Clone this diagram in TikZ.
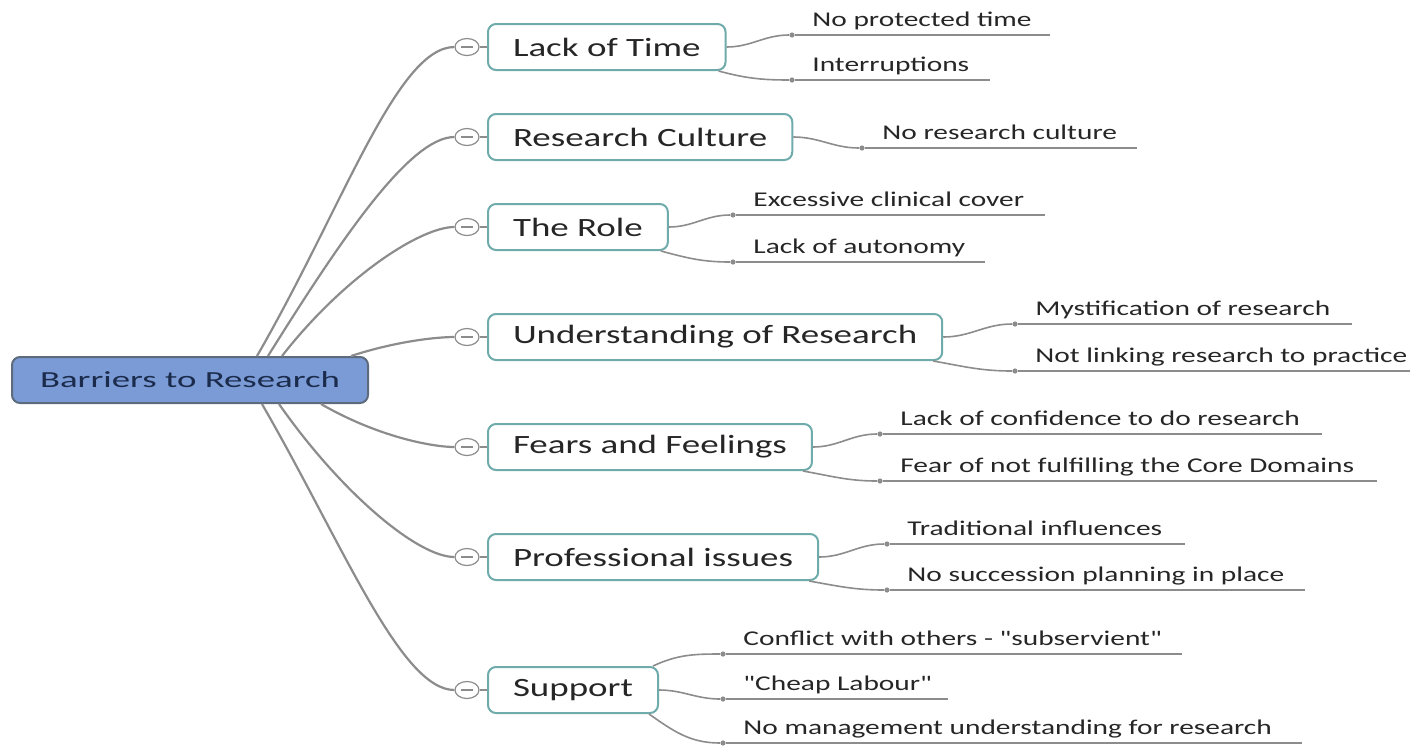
\documentclass[tikz,border=0pt]{standalone}
\usepackage{fontspec}
\newfontfamily\mapfont[FakeStretch=1.4]{Carlito}
\newfontfamily\rootfont[FakeStretch=1.6]{Carlito}
\usetikzlibrary{calc,shapes.geometric}
\definecolor{rootblue}{HTML}{7B9BD6}
\definecolor{rootedge}{HTML}{5E6B7D}
\definecolor{rootink}{HTML}{1B2B4B}
\definecolor{topicteal}{HTML}{6FABAB}
\definecolor{linegrey}{HTML}{8C8C8C}

\begin{document}
\begin{tikzpicture}[x=0.5pt, y=-0.5pt,
  root/.style={draw=rootedge, line width=1pt, fill=rootblue, rounded corners=4pt,
    minimum width=178pt, minimum height=23pt,
    font=\rootfont\fontsize{11.5}{13}\selectfont, text=rootink},
  topic/.style={draw=topicteal, line width=1pt, fill=white, rounded corners=4pt,
    minimum height=23pt, inner xsep=12.5pt, anchor=west,
    font=\mapfont\fontsize{13.2}{15}\selectfont, text=black!85},
  toggle/.style={ellipse, draw=linegrey, fill=white, line width=0.6pt,
    minimum width=12pt, minimum height=8.5pt, inner sep=0pt,
    path picture={\draw[linegrey, line width=0.6pt]
      ([xshift=-3pt]path picture bounding box.center) --
      ([xshift=3pt]path picture bounding box.center);}},
  leafdot/.style={circle, fill=linegrey, inner sep=0pt, minimum size=2.6pt},
  leaftext/.style={anchor=base west, inner sep=0pt,
    font=\mapfont\fontsize{10.5}{12}\selectfont, text=black!85},
  trunk/.style={draw=linegrey, line width=1.1pt},
  twig/.style={draw=linegrey, line width=0.8pt}]
\useasboundingbox (0,0) rectangle (1413,745);

\node[root] (root) at (190,380) {Barriers to Research};

\node[topic] (b1) at (487,47) {Lack of Time};
\node[topic] (b2) at (487,137) {Research Culture};
\node[topic] (b3) at (487,227) {The Role};
\node[topic] (b4) at (487,337) {Understanding of Research};
\node[topic] (b5) at (487,447) {Fears and Feelings};
\node[topic] (b6) at (487,557) {Professional issues};
\node[topic] (b7) at (487,690) {Support};

% toggles -> topics
\foreach \c/\b/\y in {c1/b1/47, c2/b2/137, c3/b3/227, c4/b4/337,
    c5/b5/447, c6/b6/557, c7/b7/690} {
  \node[toggle] (\c) at (467,\y) {};
  \draw[trunk] (\c) -- (\b);}
% root -> toggles
\foreach \c/\a/\dx/\o in {c1/north west/246/60, c2/north west/257/58,
    c3/north west/271/52, c4/north east/-18/18, c5/south east/-48/-30,
    c6/south west/268/-55, c7/south west/251/-60} {
  \draw[trunk] ($(root.\a)+(\dx,0)$)
    to[out=\o, in=180, out looseness=1.2, in looseness=0.4] (\c);}

% leaves
\foreach \n/\x/\y/\e/\txt in {
    l11/792/35/1050/No protected time,
    l12/792/80/990/Interruptions,
    l21/862/148/1137/No research culture,
    l31/733/215/1045/Excessive clinical cover,
    l32/733/262/985/Lack of autonomy,
    l41/1015/324/1352/Mystification of research,
    l42/1015/371/1410/Not linking research to practice,
    l51/880/434/1322/Lack of confidence to do research,
    l52/880/481/1377/Fear of not fulfilling the Core Domains,
    l61/887/544/1185/Traditional influences,
    l62/887/590/1305/No succession planning in place,
    l71/723/654/1182/Conflict with others - "subservient",
    l72/723/699/948/"Cheap Labour",
    l73/723/743/1302/No management understanding for research} {
  \coordinate (\n-end) at (\e,\y);
  \node[leafdot] (\n) at (\x,\y) {};
  \draw[twig] (\n) -- (\n-end);
  \node[leaftext] (\n-txt) at ($(\n)+(20,-9)$) {\txt};}

% topics -> leaves
\foreach \b/\a/\dx/\o/\l in {b1/east/0/0/l11, b1/south east/-8/-15/l12,
    b2/east/0/0/l21, b3/east/0/0/l31, b3/south east/-8/-15/l32,
    b4/east/0/0/l41, b4/south east/-10/-10/l42,
    b5/east/0/0/l51, b5/south east/-10/-10/l52,
    b6/east/0/0/l61, b6/south east/-10/-10/l62,
    b7/north east/-6/25/l71, b7/east/0/0/l72, b7/south east/-10/-35/l73} {
  \draw[twig] ($(\b.\a)+(\dx,0)$) to[out=\o,in=180] (\l);}
\end{tikzpicture}
\end{document}
